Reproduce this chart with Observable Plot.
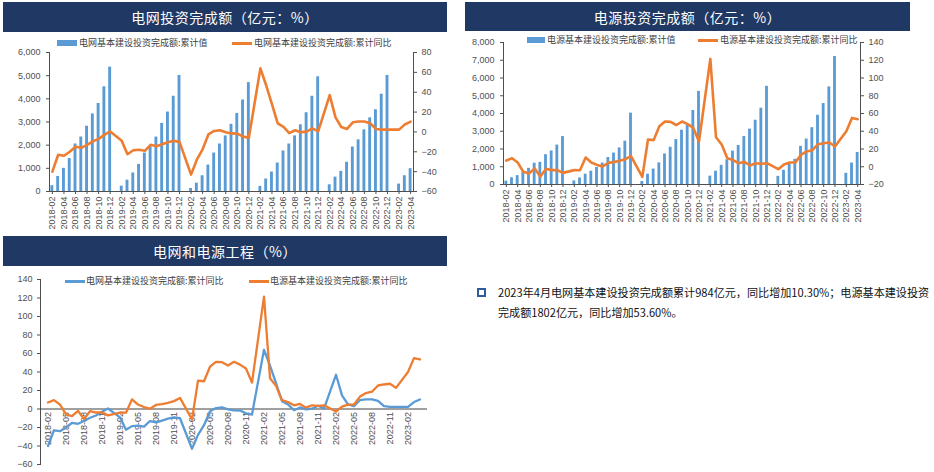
<!DOCTYPE html>
<html><head><meta charset="utf-8">
<script src="https://cdn.jsdelivr.net/npm/d3@7"></script>
<script src="https://cdn.jsdelivr.net/npm/@observablehq/plot@0.6"></script>
<style>
html,body{margin:0;padding:0;background:#fff;}
#root{position:relative;width:934px;height:472px;overflow:hidden;font-family:"Noto Sans CJK SC","Noto Sans",sans-serif;}
.abs{position:absolute;}
.title{position:absolute;background:#1f3864;color:#fff;font-size:14px;display:flex;align-items:center;justify-content:center;letter-spacing:0.5px;}
.leg{position:absolute;font-size:9px;color:#404040;white-space:nowrap;line-height:12px;}
.sw{position:absolute;}
.note{position:absolute;font-size:11.1px;color:#111;white-space:nowrap;line-height:14px;}
</style></head>
<body><div id="root"></div>
<script>
// ---- categories (monthly, January slots empty) ----
const months = [
"2018-02","2018-03","2018-04","2018-05","2018-06","2018-07","2018-08","2018-09","2018-10","2018-11","2018-12",
"2019-01","2019-02","2019-03","2019-04","2019-05","2019-06","2019-07","2019-08","2019-09","2019-10","2019-11","2019-12",
"2020-01","2020-02","2020-03","2020-04","2020-05","2020-06","2020-07","2020-08","2020-09","2020-10","2020-11","2020-12",
"2021-01","2021-02","2021-03","2021-04","2021-05","2021-06","2021-07","2021-08","2021-09","2021-10","2021-11","2021-12",
"2022-01","2022-02","2022-03","2022-04","2022-05","2022-06","2022-07","2022-08","2022-09","2022-10","2022-11","2022-12",
"2023-01","2023-02","2023-03","2023-04"];

// 电网基本建设投资完成额:累计值 (亿元)
const gridValue = [
250,650,1000,1420,2050,2350,2820,3350,3800,4520,5370,
null,230,490,800,1170,1660,1970,2350,2940,3430,4110,5010,
null,130,360,680,1140,1660,2050,2400,2900,3370,3950,4700,
null,220,540,840,1230,1750,2050,2400,2880,3400,4110,4950,
null,290,620,870,1260,1920,2230,2660,3180,3530,4200,5010,
null,320,680,984];
// 电网基本建设投资完成额:累计同比 (%)
const gridYoY = [
-40,-23,-24,-20,-15,-16,-13,-9.5,-7,-3,0.5,
null,-9,-22.5,-18.5,-18,-19,-13,-14.5,-12.5,-10.5,-9,-10,
null,-43,-28,-17.5,-2.5,1,1.7,-0.3,-1.5,-1.7,-4.7,-6,
null,64,47,28,8.5,5,-1.3,1.7,-0.3,0.3,3.5,0.5,
null,37,14.7,5,3,9.7,10.5,10.5,8.7,3,2.3,2.3,
null,2.3,7.5,10.3];
// 电源基本建设投资完成额:累计值 (亿元)
const powerValue = [
190,380,500,700,910,1200,1250,1680,1890,2220,2700,
null,200,370,580,750,960,1210,1520,1770,2060,2440,4020,
null,170,580,870,1220,1720,2100,2530,3060,3320,4170,5244,
null,470,750,1080,1390,1880,2200,2700,3120,3620,4300,5530,
null,460,800,1170,1420,2150,2560,3200,3900,4560,5500,7208,
null,630,1210,1802];
// 电源基本建设投资完成额:累计同比 (%)
const powerYoY = [
7,9.6,4.8,-5.7,-7.6,-2,-11,-2.4,-3.8,-3.8,-6.9,
null,-3.8,-4,10.4,4.8,2.1,0.3,4.4,5.2,6.7,8.5,12,
null,-11.4,30.7,30,45.7,51,50.6,47,51,48,43.8,28.5,
null,121.5,33.3,25,9.5,7.5,4,5.5,1.5,4,3.3,4,
null,-2.7,2.5,4.8,4.8,13.4,17.2,18.7,25.4,26.5,27.3,22.8,
null,40,55,53.6];

// tick labels
const ticks2 = months.filter((m,i)=>i%2===0);
const ticks3 = months.filter((m,i)=>i%3===0);
const gridLeftTicks = [0,1000,2000,3000,4000,5000,6000];
const gridRightTicks = [-60,-40,-20,0,20,40,60,80];
const powerLeftTicks = [0,1000,2000,3000,4000,5000,6000,7000,8000];
const powerRightTicks = [-20,0,20,40,60,80,100,120,140];
const comboTicks = [-60,-40,-20,0,20,40,60,80,100,120,140];

const BLUE="#5b9bd5", ORANGE="#ed7d31";
const toRows = (vals)=>months.map((m,i)=>({month:m,value:vals[i]}));
const rowsNN = (vals)=>toRows(vals).filter(d=>d.value!=null);

const root = document.getElementById("root");
function place(el, left, top){ el.style.position="absolute"; el.style.left=left+"px"; el.style.top=top+"px"; root.appendChild(el); }
function div(cls, html, css){ const d=document.createElement("div"); d.className=cls; d.innerHTML=html; Object.assign(d.style, css); root.appendChild(d); return d; }

const axisStyle = {fontSize:"9px", fontFamily:"'Liberation Sans', Arial, sans-serif", color:"#505050", background:"transparent", overflow:"visible"};
const bandX = (extra)=>Object.assign({type:"band", domain: months, paddingInner:0.5, paddingOuter:0.25}, extra);

function dualChart({left, top, width, height, mL, mR, mT, mB, bars, line, yL, yR, ticksL, ticksR}){
  const common = {width, height, marginLeft:mL, marginRight:mR, marginTop:mT, marginBottom:mB, style: axisStyle};
  const p1 = Plot.plot({...common,
    x: bandX({ticks: ticks2, tickRotate:-90, tickSize:3, tickPadding:2, line:true, label:null}),
    y: {domain: yL, ticks: ticksL, tickFormat: d3.format(","), tickSize:3, tickPadding:6, line:true, label:null},
    marks: [Plot.barY(rowsNN(bars), {x:"month", y:"value", fill:BLUE})]
  });
  const p2 = Plot.plot({...common,
    x: bandX({axis:null}),
    y: {domain: yR, axis:"right", ticks: ticksR, tickSize:3, tickPadding:5, line:true, label:null},
    marks: [Plot.line(rowsNN(line), {x:"month", y:"value", stroke:ORANGE, strokeWidth:2.6, strokeLinejoin:"round"})]
  });
  place(p1, left, top); place(p2, left, top);
}

// ---- Panel 1: 电网 ----
div("title","电网投资完成额（亿元：%）",{left:"3px",top:"2px",width:"444px",height:"30px"});
div("sw","",{left:"57px",top:"40px",width:"20px",height:"6px",background:BLUE});
div("leg","电网基本建设投资完成额:累计值",{left:"79px",top:"37px"});
div("sw","",{left:"232px",top:"42px",width:"20px",height:"3px",background:ORANGE});
div("leg","电网基本建设投资完成额:累计同比",{left:"254px",top:"37px"});
dualChart({left:0, top:40, width:450, height:200, mL:49, mR:37, mT:12, mB:49,
  bars: gridValue, line: gridYoY, yL:[0,6000], yR:[-60,80], ticksL:gridLeftTicks, ticksR:gridRightTicks});

// ---- Panel 2: 电源 ----
div("title","电源投资完成额（亿元：%）",{left:"465px",top:"2px",width:"445px",height:"29px"});
div("sw","",{left:"527px",top:"37px",width:"18px",height:"6px",background:BLUE});
div("leg","电源基本建设投资完成额:累计值",{left:"547px",top:"34px"});
div("sw","",{left:"698px",top:"39px",width:"20px",height:"3px",background:ORANGE});
div("leg","电源基本建设投资完成额:累计同比",{left:"720px",top:"34px"});
dualChart({left:460, top:30, width:474, height:200, mL:43, mR:74, mT:12, mB:46,
  bars: powerValue, line: powerYoY, yL:[0,8000], yR:[-20,140], ticksL:powerLeftTicks, ticksR:powerRightTicks});

// ---- Panel 3: 电网和电源工程 ----
div("title","电网和电源工程（%）",{left:"3px",top:"236px",width:"444px",height:"30px"});
const p3 = Plot.plot({
  width:450, height:202, marginLeft:40, marginRight:23, marginTop:9, marginBottom:8,
  style: axisStyle,
  x: bandX({axis:null}),
  y: {domain:[-60,140], ticks: comboTicks, tickSize:3, tickPadding:5, line:true, label:null},
  marks: [
    Plot.ruleY([0], {stroke:"#404040"}),
    Plot.text(ticks3, {x:d=>d, y:0, text:d=>d, rotate:-90, textAnchor:"end", dy:3, fill:"#505050", fontSize:9}),
    Plot.line(rowsNN(gridYoY), {x:"month", y:"value", stroke:BLUE, strokeWidth:2.3, strokeLinejoin:"round"}),
    Plot.line(rowsNN(powerYoY), {x:"month", y:"value", stroke:ORANGE, strokeWidth:2.3, strokeLinejoin:"round"})
  ]
});
place(p3, 0, 270);
div("sw","",{left:"65px",top:"280px",width:"20px",height:"3px",background:BLUE});
div("leg","电网基本建设投资完成额:累计同比",{left:"86px",top:"275px"});
div("sw","",{left:"249px",top:"280px",width:"20px",height:"3px",background:ORANGE});
div("leg","电源基本建设投资完成额:累计同比",{left:"270px",top:"275px"});

// ---- Panel 4: note ----
div("sw","",{left:"477px",top:"288px",width:"5px",height:"5px",border:"2px solid #2e5c9a"});
div("note","2023年4月电网基本建设投资完成额累计984亿元，同比增加10.30%；电源基本建设投资",{left:"498px",top:"285px"});
div("note","完成额1802亿元，同比增加53.60%。",{left:"498px",top:"305px"});
</script>
</body></html>
